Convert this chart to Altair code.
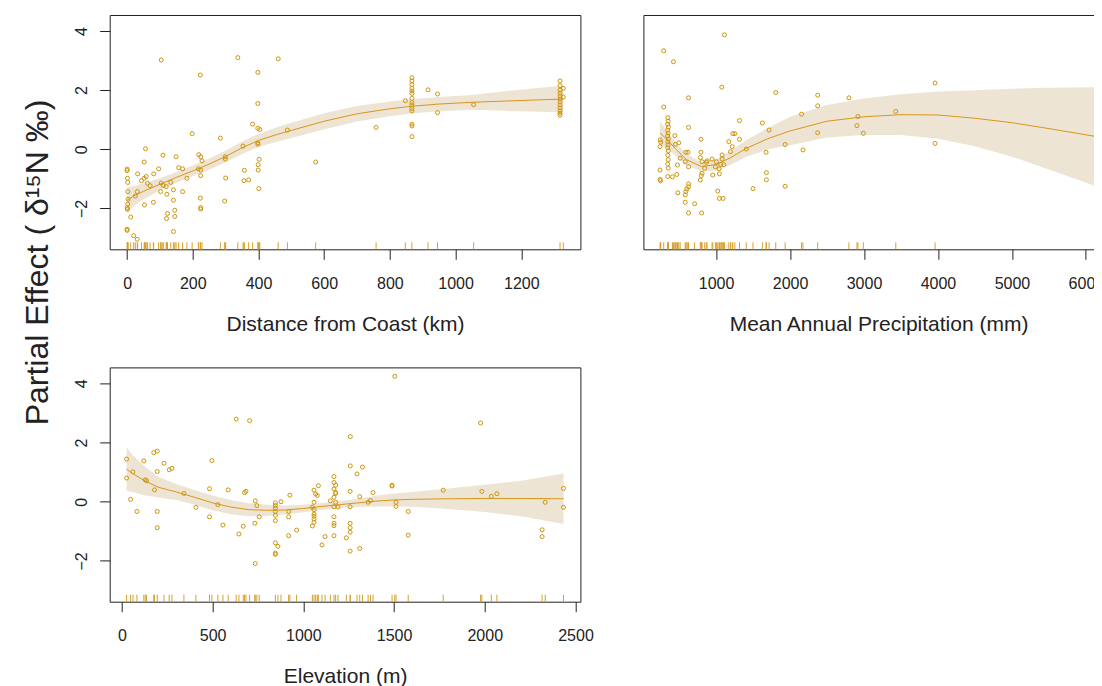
import altair as alt
import pandas as pd

FONT = "Liberation Sans, Arial, Helvetica, sans-serif"
PT_COLOR = "#CD950C"
LINE_COLOR = "#D9961A"
BAND_COLOR = "#EEE4D4"
RUG_COLOR = "#D6A030"
INK = "#222222"

Y_DOMAIN = [-3.38, 4.54]
Y_TICKS = [-2, 0, 2, 4]
H = 234.3

# ---------------- Panel 1: Distance from coast ----------------
dist_x = [104, 337, 460, 398, 223, 398, 382, 398, 404, 488, 198, 284, 353, 398, 398, 56, 109, 149, 52,
          218, 224, 228, 299, 299, 402, 0, 0, 1, 2, 96, 157, 169, 217, 224, 32, 58, 52, 44, 62, 70, 81,
          104, 110, 133, 141, 119, 182, 224, 357, 399, 399, 356, 370, 300, 2, 31, 25, 3, 2, 0, 1, 401,
          169, 102, 53, 80, 121, 141, 145, 145, 123, 120, 223, 224, 224, 297, 11, 0, 0, 20, 31, 141,
          574, 758, 847, 867, 867, 867, 867, 867, 867, 867, 867, 867, 867, 867, 867, 867, 867, 916, 945,
          945, 1055, 1318, 1318, 1318, 1318, 1318, 1318, 1318, 1318, 1318, 1318, 1318, 1318, 1328, 1328]
dist_y = [3.02, 3.10, 3.06, 2.60, 2.51, 1.55, 0.85, 0.71, 0.67, 0.65, 0.53, 0.38, 0.11, 0.22, 0.17, 0.02,
          -0.20, -0.25, -0.43, -0.18, -0.25, -0.39, -0.25, -0.33, -0.34, -0.67, -0.72, -0.98, -1.12, -0.66,
          -0.62, -0.66, -0.66, -0.70, -0.83, -0.92, -0.98, -1.06, -1.15, -1.23, -0.83, -1.14, -1.22, -1.12,
          -1.37, -1.26, -0.98, -0.89, -0.71, -0.52, -0.70, -1.06, -1.03, -0.97, -1.43, -1.43, -1.58, -1.69,
          -1.85, -1.98, -2.03, -1.33, -1.43, -1.43, -1.88, -1.79, -1.52, -1.72, -2.06, -2.27, -2.17, -2.34,
          -1.65, -1.97, -2.02, -1.75, -2.29, -2.70, -2.74, -2.92, -3.04, -2.78,
          -0.43, 0.74, 1.64, 2.42, 2.31, 2.19, 2.06, 1.97, 1.89, 1.72, 1.58, 1.50, 1.38, 1.30, 0.85, 0.79,
          0.43, 2.01, 1.87, 1.24, 1.51, 2.31, 2.15, 2.00, 1.90, 1.80, 1.70, 1.60, 1.50, 1.40, 1.30, 1.22,
          1.15, 2.06, 1.77]
dist_curve_x = [0, 25, 50, 100, 150, 200, 250, 300, 350, 400, 450, 500, 600, 700, 800, 870, 950, 1050,
                1150, 1250, 1328]
dist_fit = [-1.72, -1.55, -1.42, -1.18, -0.95, -0.73, -0.50, -0.24, 0.05, 0.30, 0.48, 0.64, 0.95, 1.20,
            1.37, 1.46, 1.53, 1.59, 1.63, 1.67, 1.70]
dist_hi = [-1.30, -1.22, -1.15, -0.98, -0.77, -0.55, -0.31, -0.04, 0.26, 0.52, 0.72, 0.90, 1.22, 1.46,
           1.62, 1.70, 1.77, 1.84, 1.96, 2.07, 2.15]
dist_lo = [-2.14, -1.88, -1.69, -1.38, -1.13, -0.91, -0.69, -0.44, -0.16, 0.08, 0.24, 0.38, 0.68, 0.94,
           1.12, 1.22, 1.29, 1.34, 1.30, 1.27, 1.25]
dist_ticks = [0, 200, 400, 600, 800, 1000, 1200]

# ---------------- Panel 2: Mean annual precipitation ----------------
prec_x = [292, 424, 1113, 1077, 628, 1807, 2374, 2374, 2796, 292,
          347, 352, 345, 355, 347, 352, 345, 355, 347, 352, 345, 355, 347, 352, 345, 355,
          243, 252, 243, 243, 243, 250,
          442, 496, 451, 628, 796, 592, 619, 515, 583, 628, 478,
          796, 787, 810, 868, 946, 878, 1004, 1082, 1104, 991, 1041,
          846, 810, 800, 787, 955, 1045, 347, 410, 469, 483,
          628, 628, 605, 592, 583, 583, 710, 628, 805,
          1023, 1045, 1095,
          1172, 1227, 1254, 1317, 1317, 1218, 1195, 1082, 1064,
          1408, 1626, 1717, 1676, 1680, 1680, 1499, 1934, 1934, 2156, 2175, 2374, 2918, 2905, 2991,
          3430, 3961, 3961, 6169]
prec_y = [3.33, 2.96, 3.87, 2.10, 1.74, 1.92, 1.83, 1.47, 1.74, 1.43,
          1.07, 0.95, 0.85, 0.75, 0.65, 0.55, 0.45, 0.35, 0.25, 0.15, 0.05, -0.05, -0.20, -0.35, -0.50, -0.64,
          0.32, 0.24, 0.09, -0.70, -1.02, -1.06,
          0.46, 0.22, 0.17, 0.74, 0.34, -0.10, -0.10, -0.30, -0.42, -0.59, -0.53,
          -0.10, -0.28, -0.42, -0.44, -0.33, -0.39, -0.42, -0.33, -0.52, -0.59, -0.66,
          -0.64, -0.81, -0.89, -1.04, -0.87, -0.83, -0.92, -0.93, -0.85, -1.47,
          -1.17, -1.27, -1.34, -1.43, -1.54, -1.79, -1.84, -2.15, -2.15,
          -1.41, -1.66, -1.66,
          0.26, 0.53, 0.53, 0.34, 0.97, 0.09, -0.08, -0.19, -0.51,
          0.01, 0.89, 0.65, -0.10, -0.79, -1.03, -1.33, 0.16, -1.25, 1.19, -0.02, 0.56, 1.11, 0.80, 0.54,
          1.28, 2.24, 0.20, 0.43]
prec_curve_x = [243, 350, 450, 600, 800, 1000, 1200, 1400, 1700, 2000, 2500, 3000, 3500, 4000, 4500,
                5000, 5500, 6169]
prec_fit = [0.55, 0.30, 0.02, -0.35, -0.58, -0.52, -0.28, 0.02, 0.36, 0.62, 0.95, 1.10, 1.17, 1.16, 1.05,
            0.90, 0.70, 0.42]
prec_hi = [0.95, 0.58, 0.25, -0.17, -0.42, -0.33, -0.05, 0.30, 0.72, 1.10, 1.50, 1.72, 1.86, 1.95, 2.00,
           2.05, 2.08, 2.10]
prec_lo = [0.15, 0.02, -0.21, -0.53, -0.74, -0.72, -0.52, -0.26, 0.00, 0.14, 0.40, 0.48, 0.48, 0.36, 0.10,
           -0.25, -0.68, -1.28]
prec_ticks = [1000, 2000, 3000, 4000, 5000, 6000]

# ---------------- Panel 3: Elevation ----------------
elev_x = [630, 704, 26, 121, 176, 195, 232, 261, 276, 195, 26, 61, 129, 136, 180, 342, 496, 483, 586, 676,
          684, 735, 744, 529, 408, 483, 557, 48, 83, 195, 195, 669, 645, 733, 757, 735,
          846, 846, 846, 846, 846, 846, 877, 846, 860, 846, 846, 926, 919, 919, 919, 963,
          1504, 1977, 1259, 1259, 1326, 1296,
          1169, 1169, 1178, 1169, 1178, 1178, 1169, 1178, 1169, 1169, 1169, 1169, 1169, 1191, 1149,
          1258, 1258, 1258, 1258, 1258, 1237, 1258, 1311, 1311, 1384, 1357, 1370, 1489, 1489, 1511, 1511,
          1578, 1578, 1771, 1984, 2036, 2067,
          1059, 1068, 1077, 1083, 1059, 1050, 1059, 1059, 1059, 1059, 1050, 1059, 1120, 1103,
          2316, 2316, 2333, 2434, 2434]
elev_y = [2.79, 2.74, 1.44, 1.38, 1.66, 1.71, 1.30, 1.08, 1.13, 1.02, 0.80, 1.01, 0.74, 0.71, 0.40, 0.28,
          1.39, 0.44, 0.40, 0.31, 0.35, 0.03, -0.13, -0.10, -0.19, -0.51, -0.79, 0.08, -0.33, -0.33, -0.88,
          -0.83, -1.09, -0.73, -0.51, -2.09,
          -0.04, -0.13, -0.22, -0.33, -0.46, -0.64, 0.00, -1.39, -1.51, -1.74, -1.78, 0.22, -0.33, -0.51,
          -1.15, -0.96,
          4.24, 2.66, 2.20, 1.21, 1.17, 0.94,
          0.85, 0.65, 0.56, 0.43, 0.31, 0.28, 0.15, -0.02, -0.17, -0.51, -0.73, -0.81, -1.15, -0.18, 0.03,
          0.35, -0.17, -0.73, -0.88, -1.03, -1.22, -1.67, -1.58, 0.17, 0.31, -0.02, 0.04, 0.56, 0.53, -0.02,
          -0.16, -0.33, -1.13, 0.39, 0.35, 0.18, 0.27,
          0.39, 0.26, 0.21, 0.54, -0.02, -0.19, -0.27, -0.42, -0.49, -0.58, -0.82, -0.70, -1.18, -1.46,
          -0.95, -1.18, -0.02, 0.45, -0.19]
elev_curve_x = [26, 60, 121, 200, 300, 400, 500, 600, 700, 800, 900, 1000, 1100, 1200, 1300, 1400, 1500,
                1600, 1800, 2000, 2200, 2434]
elev_fit = [1.10, 0.95, 0.72, 0.49, 0.33, 0.15, -0.04, -0.18, -0.27, -0.29, -0.28, -0.23, -0.16, -0.10,
            -0.04, 0.02, 0.06, 0.08, 0.10, 0.11, 0.11, 0.10]
elev_hi = [1.83, 1.57, 1.22, 0.84, 0.60, 0.40, 0.21, 0.06, -0.05, -0.10, -0.13, -0.10, -0.04, 0.02, 0.10,
           0.20, 0.28, 0.33, 0.45, 0.57, 0.71, 0.95]
elev_lo = [0.37, 0.33, 0.22, 0.14, 0.06, -0.10, -0.29, -0.42, -0.49, -0.48, -0.43, -0.36, -0.28, -0.22,
           -0.18, -0.16, -0.16, -0.17, -0.25, -0.35, -0.49, -0.75]
elev_ticks = [0, 500, 1000, 1500, 2000, 2500]

Y_TITLE = "Partial Effect ( δ¹⁵N  ‰)"

LEFT_W = 38.6
COL_GAP = 62.7
ROW_GAP = 117.4


def panel(px, py, cx, cfit, clo, chi, xdomain, xticks, xtitle, width, show_y):
    pts = pd.DataFrame({"x": px, "y": py})
    curve = pd.DataFrame({"x": cx, "fit": cfit, "lo": clo, "hi": chi})
    rug = pd.DataFrame({"x": sorted(set(px))})
    xs = alt.Scale(domain=xdomain, nice=False, zero=False)
    ys = alt.Scale(domain=Y_DOMAIN, nice=False, zero=False)
    xaxis = alt.Axis(values=xticks, title=xtitle, format="d", tickSize=10, labelPadding=28.7,
                     labelBaseline="alphabetic", titleY=80.7, titleBaseline="alphabetic",
                     domain=False, grid=False, labelFlush=False, labelOverlap=False)
    if show_y:
        yaxis = alt.Axis(values=Y_TICKS, title=None, format="d", labelAngle=270, labelAlign="center",
                         labelBaseline="alphabetic", labelPadding=13, tickSize=10,
                         domain=False, grid=False, labelOverlap=False)
    else:
        yaxis = None

    def X():
        return alt.X("x:Q", scale=xs, axis=xaxis)

    band = alt.Chart(curve).mark_area(color=BAND_COLOR, opacity=1).encode(
        x=X(), y=alt.Y("lo:Q", scale=ys, axis=yaxis), y2="hi:Q")
    line = alt.Chart(curve).mark_line(color=LINE_COLOR, strokeWidth=1).encode(
        x=X(), y=alt.Y("fit:Q", scale=ys, axis=yaxis))
    points = alt.Chart(pts).mark_point(shape="circle", filled=False, size=16, strokeWidth=1,
                                       color=PT_COLOR, opacity=1).encode(
        x=X(), y=alt.Y("y:Q", scale=ys, axis=yaxis))
    rugs = alt.Chart(rug).mark_rule(color=RUG_COLOR, strokeWidth=1).encode(
        x=X(), y=alt.value(H - 7), y2=alt.value(H))
    return alt.layer(band, line, points, rugs).properties(
        width=width, height=H, view=alt.ViewBackground(stroke=INK, strokeWidth=1))


p1 = panel(dist_x, dist_y, dist_curve_x, dist_fit, dist_lo, dist_hi, [-53, 1380], dist_ticks,
           "Distance from Coast (km)", 470.7, True)
p2 = panel(prec_x, prec_y, prec_curve_x, prec_fit, prec_lo, prec_hi, [17.5, 6376], prec_ticks,
           "Mean Annual Precipitation (mm)", 470.3, False)
p3 = panel(elev_x, elev_y, elev_curve_x, elev_fit, elev_lo, elev_hi, [-67, 2527], elev_ticks,
           "Elevation (m)", 470.7, True)

title_panel = alt.Chart(alt.Data(values=[{"a": 1}])).mark_text(
    angle=270, align="center", baseline="alphabetic", font=FONT, fontSize=32, color=INK
).encode(
    x=alt.value(40), y=alt.value(247.5), text=alt.value(Y_TITLE)
).properties(width=LEFT_W, height=H, view=alt.ViewBackground(stroke="transparent"))

blank = alt.Chart(alt.Data(values=[{"a": 1}])).mark_text(opacity=0).encode(
    x=alt.value(0), y=alt.value(0), text=alt.value(" ")
).properties(width=LEFT_W, height=H, view=alt.ViewBackground(stroke="transparent"))

# Fixed canvas of 1086 x 678 px so the page never overflows sideways; the precipitation
# panel runs past the right edge and is cut off there, as in the original figure.
chart = alt.concat(
    title_panel, p1, p2, blank, p3,
    columns=3, spacing={"row": ROW_GAP, "column": COL_GAP}, bounds="flush"
).properties(
    autosize=alt.AutoSizeParams(type="none"),
    padding={"left": 0, "top": 7, "right": 1086, "bottom": 671}
).configure(font=FONT).configure_axis(
    labelFont=FONT, titleFont=FONT, labelFontSize=16, titleFontSize=21,
    labelColor=INK, titleColor=INK, tickColor=INK, titleFontWeight="normal"
)

chart.save("out.html", embed_options={"renderer": "svg", "actions": False})
